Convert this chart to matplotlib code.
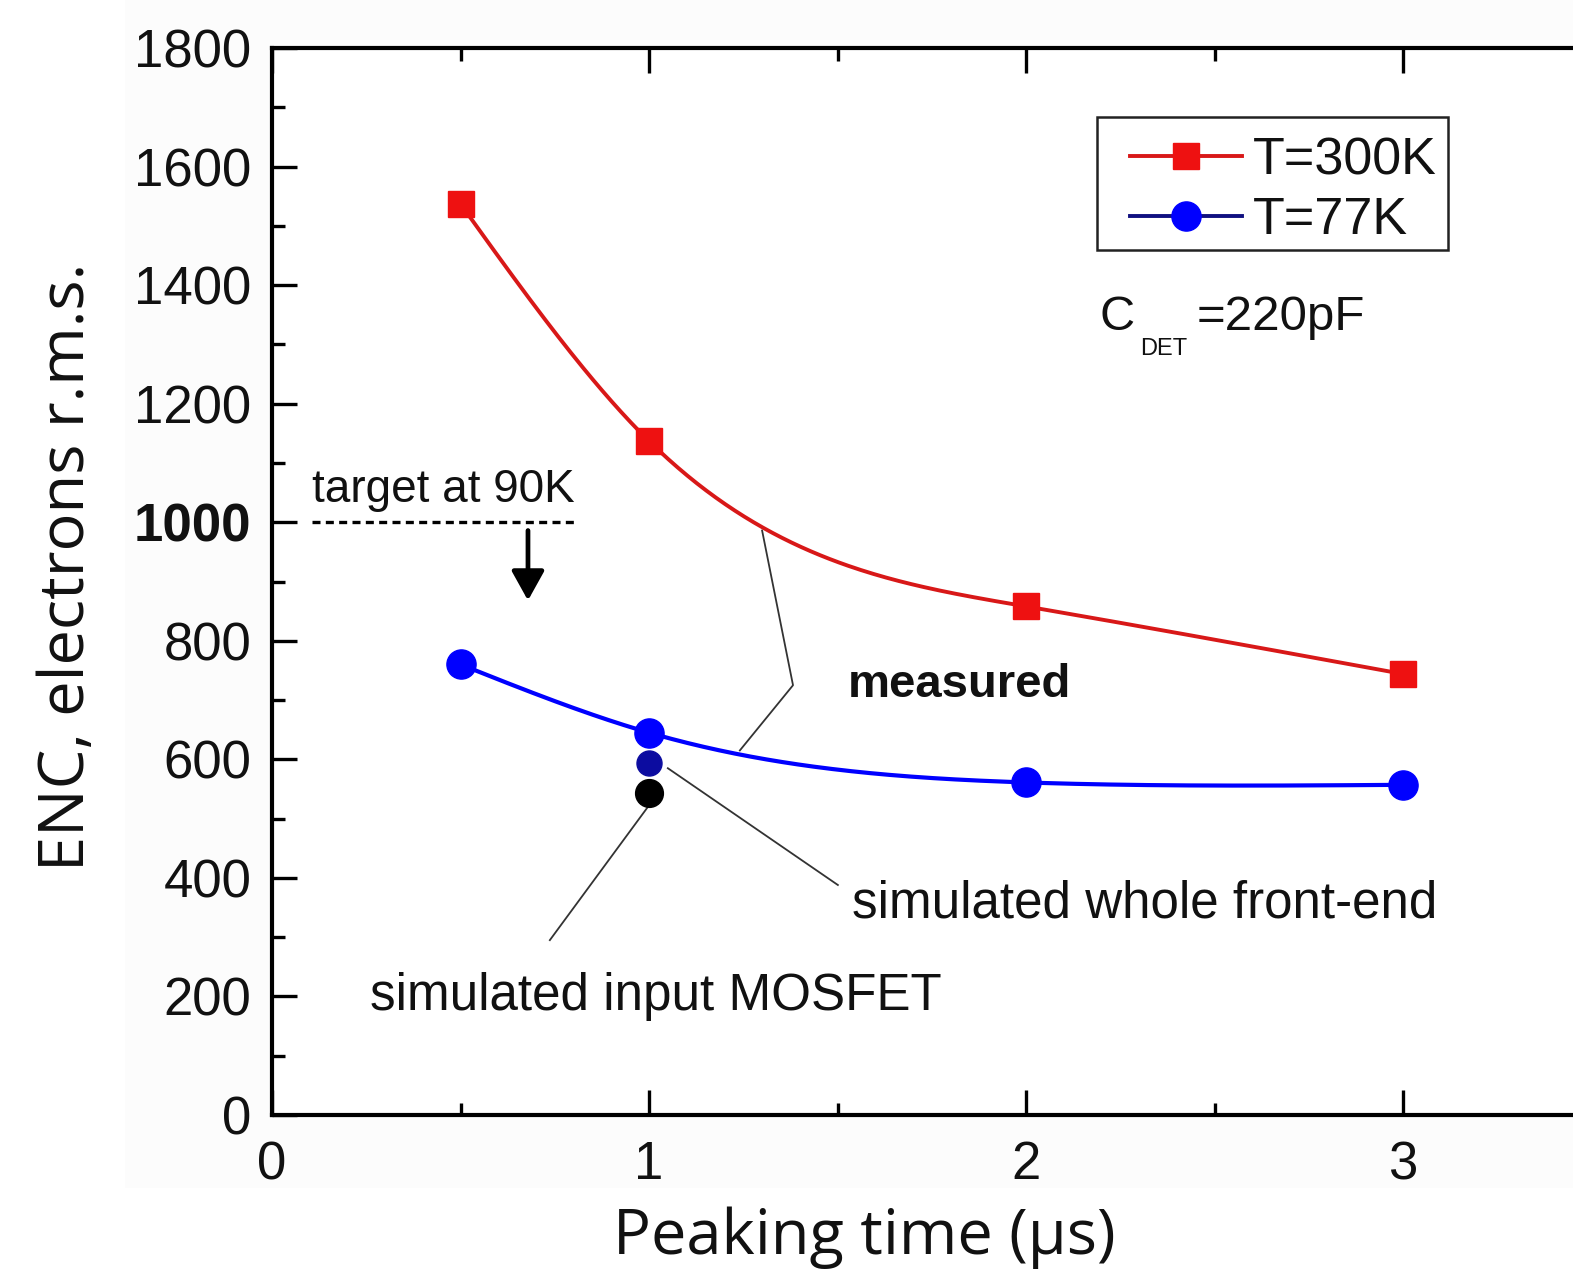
import numpy as np
import matplotlib
matplotlib.use('Agg')
import matplotlib.pyplot as plt
from matplotlib.lines import Line2D
from matplotlib.patches import Rectangle

# ---------------- data ----------------
peaking_time = [0.5, 1, 2, 3]
enc_300k = [1537, 1137, 858, 744]
enc_77k = [760, 645, 561, 557]
sim_time = [1]
sim_whole_front_end = [594]
sim_input_mosfet = [543]
target_90k = 1000
target_span = [0.106, 0.804]
xtick_values = [0, 1, 2, 3]
xtick_labels = ['0', '1', '2', '3']
ytick_values = [0, 200, 400, 600, 800, 1000, 1200, 1400, 1600, 1800]
ytick_labels = ['0', '200', '400', '600', '800', '1000', '1200', '1400', '1600', '1800']


def natural_spline(x, y, n=300):
    x = np.asarray(x, float)
    y = np.asarray(y, float)
    k = len(x)
    h = np.diff(x)
    A = np.zeros((k, k))
    b = np.zeros(k)
    A[0, 0] = A[-1, -1] = 1
    for i in range(1, k - 1):
        A[i, i - 1] = h[i - 1]
        A[i, i] = 2 * (h[i - 1] + h[i])
        A[i, i + 1] = h[i]
        b[i] = 3 * ((y[i + 1] - y[i]) / h[i] - (y[i] - y[i - 1]) / h[i - 1])
    c = np.linalg.solve(A, b)
    xs = np.linspace(x[0], x[-1], n)
    idx = np.clip(np.searchsorted(x, xs) - 1, 0, k - 2)
    bc = (y[1:] - y[:-1]) / h - h * (2 * c[:-1] + c[1:]) / 3
    d = (c[1:] - c[:-1]) / (3 * h)
    t = xs - x[idx]
    ys = y[idx] + bc[idx] * t + c[idx] * t ** 2 + d[idx] * t ** 3
    return xs, ys


W, H = 1573, 1278
fig = plt.figure(figsize=(W / 100, H / 100), dpi=100)
fig.patch.set_facecolor('white')
fig.add_artist(Rectangle((125 / W, 1 - 1188 / H), 1, 1, transform=fig.transFigure,
                         facecolor='#fcfcfc', edgecolor='none', zorder=-10))

AX_L, AX_B, AX_W, AX_H = 272, 1115, 1319.5, 1067
ax = fig.add_axes([AX_L / W, 1 - AX_B / H, AX_W / W, AX_H / H])
ax.set_xlim(0, 3.5)
ax.set_ylim(0, 1800)
ax.set_facecolor('white')


def axfrac(px, py):
    return ((px - AX_L) / AX_W, (AX_B - py) / AX_H)


tickfont = ['Liberation Sans', 'DejaVu Sans']
textcol = '#111111'

red = '#ee1111'
red_line = '#d81818'
blue = '#0000ff'

# 300 K
xs, ys = natural_spline(peaking_time, enc_300k)
ax.plot(xs, ys, color=red_line, lw=2.8, zorder=3)
ax.plot(peaking_time, enc_300k, ls='none', marker='s', ms=19, color=red, mec=red, zorder=4)
# 77 K
xs, ys = natural_spline(peaking_time, enc_77k)
ax.plot(xs, ys, color=blue, lw=3.0, zorder=3)
ax.plot(peaking_time, enc_77k, ls='none', marker='o', ms=21, color=blue, mec=blue, zorder=4)
# simulated points
ax.plot(sim_time, sim_whole_front_end, ls='none', marker='o', ms=18, color='#0c0ca0', zorder=4)
ax.plot(sim_time, sim_input_mosfet, ls='none', marker='o', ms=20, color='black', zorder=4)

# target line and arrow
ax.plot(target_span, [target_90k, target_90k], color='black', lw=2.4,
        ls=(0, (2.4, 1.6)), zorder=3)
ax.annotate('', xy=(0.679, 868), xytext=(0.679, 986),
            arrowprops=dict(arrowstyle='-|>,head_width=0.25,head_length=0.45',
                            color='black', lw=3.4, mutation_scale=40, shrinkA=0, shrinkB=0))
ax.text(0.106, 1034, 'target at 90K', fontsize=33, family=tickfont, color=textcol,
        ha='left', va='baseline')

# leader lines
leader_kw = dict(color='#333333', lw=1.3, zorder=2)
ax.plot([1.300, 1.382, 1.241], [986, 725, 615], **leader_kw)
ax.plot([1.050, 1.501], [585, 388], **leader_kw)
ax.plot([0.995, 0.737], [518, 295], **leader_kw)

ax.text(1.528, 705, 'measured', fontsize=34, fontweight='bold', family=tickfont,
        color=textcol, ha='left', va='baseline')
ax.text(1.538, 334, 'simulated whole front-end', fontsize=36.8, family=tickfont,
        color=textcol, ha='left', va='baseline')
ax.text(0.26, 177, 'simulated input MOSFET', fontsize=36.8, family=tickfont,
        color=textcol, ha='left', va='baseline')

# C_DET label
ax.text(2.196, 1324, 'C', fontsize=35, family=tickfont, color=textcol, ha='left', va='baseline')
ax.text(2.302, 1282, 'DET', fontsize=17, family=tickfont, color=textcol, ha='left', va='baseline')
ax.text(2.452, 1324, '=220pF', fontsize=35.5, family=tickfont, color=textcol, ha='left', va='baseline')

# legend (frame drawn separately)
handles = [
    Line2D([], [], color=red_line, lw=2.8, marker='s', ms=19, mfc=red, mec=red),
    Line2D([], [], color='#101080', lw=2.8, marker='o', ms=21, mfc=blue, mec=blue),
]
leg = ax.legend(handles, ['T=300K', 'T=77K'], loc='upper left',
                bbox_to_anchor=axfrac(1130, 136),
                prop=dict(family=tickfont, size=37.5), frameon=False,
                handlelength=2.15, handletextpad=0.2,
                borderpad=0, labelspacing=0.22, borderaxespad=0)
for t in leg.get_texts():
    t.set_color(textcol)
fx0, fy0 = axfrac(1097, 250)
fx1, fy1 = axfrac(1448, 117)
ax.add_patch(Rectangle((fx0, fy0), fx1 - fx0, fy1 - fy0, transform=ax.transAxes,
                       facecolor='none', edgecolor='#222222', lw=1.8, zorder=5))

# axes styling
for side in ['left', 'bottom', 'top']:
    ax.spines[side].set_linewidth(3)
    ax.spines[side].set_color('black')
ax.spines['right'].set_visible(False)

ax.set_xticks(xtick_values, xtick_labels)
ax.set_yticks(ytick_values, ytick_labels)
ax.set_xticks(np.arange(0.5, 3.5, 1.0), minor=True)
ax.set_yticks(np.arange(100, 1800, 200), minor=True)
ax.tick_params(axis='both', which='major', direction='in', length=18, width=2.4,
               labelsize=38, colors='black', labelcolor=textcol)
ax.tick_params(axis='both', which='minor', direction='in', length=9, width=2.4)
ax.tick_params(axis='x', which='both', top=True, bottom=True)
ax.tick_params(axis='y', which='both', left=True, right=False)
ax.tick_params(axis='x', which='major', pad=18)
ax.tick_params(axis='y', which='major', pad=15)
for lbl in ax.get_xticklabels() + ax.get_yticklabels():
    lbl.set_family(tickfont)
for lbl in ax.get_yticklabels():
    if lbl.get_text() == '1000':
        lbl.set_fontweight('bold')

labelfont = ['Open Sans', 'DejaVu Sans']
fig.text(68 / W, 1 - 567 / H, 'ENC, electrons r.m.s.', rotation=90, ha='center', va='center',
         fontsize=45.5, family=labelfont, color=textcol)
fig.text(864 / W, 1 - 1238 / H, 'Peaking time (μs)', ha='center', va='center',
         fontsize=45.5, family=labelfont, color=textcol)

fig.savefig('out.png', dpi=100)
